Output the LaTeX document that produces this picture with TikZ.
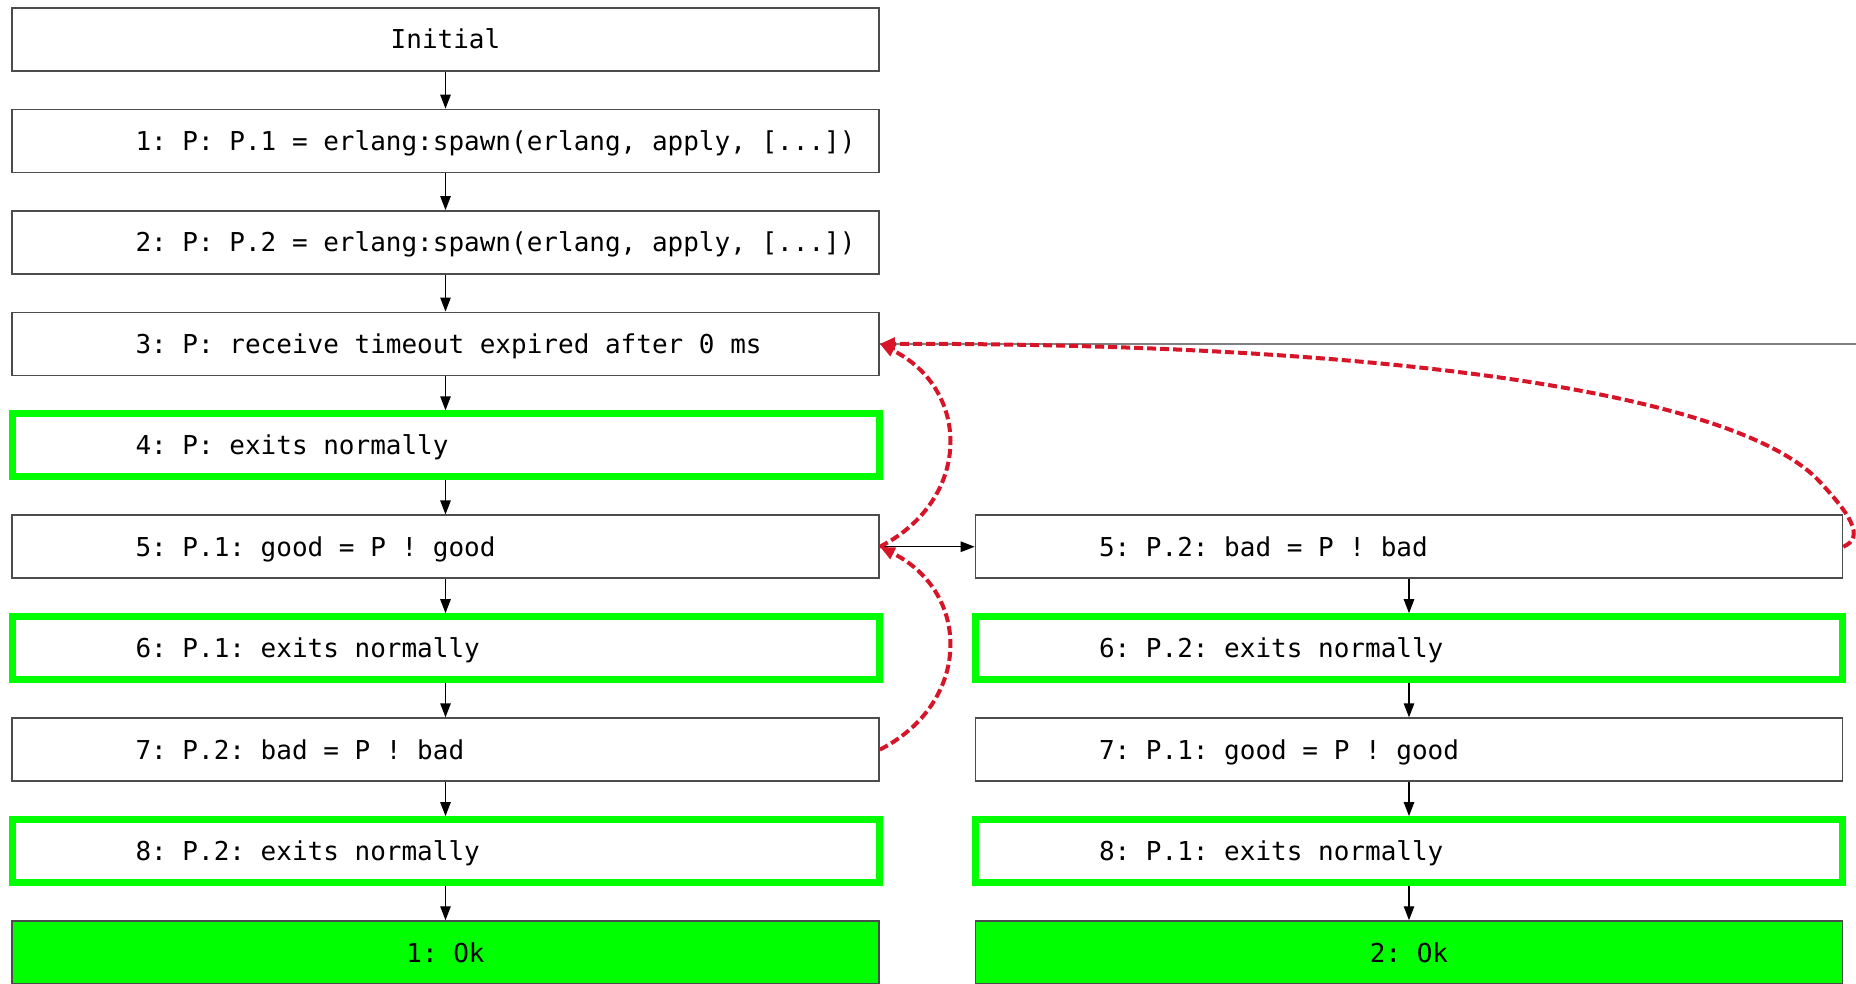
\documentclass[tikz,border=0pt]{standalone}
\usepackage{fontspec}
\setmonofont{DejaVu Sans Mono}
\usetikzlibrary{arrows.meta}
\definecolor{gvgreen}{RGB}{0,255,0}
\definecolor{gvred}{RGB}{215,20,40}
\newcommand\lefttxt[1]{\makebox[310pt][l]{#1}}
\begin{document}
\begin{tikzpicture}[x=0.5pt,y=-0.5pt,
  box/.style={draw=black!70, line width=0.8pt, fill=white, minimum width=433.5pt,
    minimum height=31.5pt, inner sep=0pt, font=\ttfamily\fontsize{13}{15}\selectfont,
    text height=9.5pt, text depth=0pt},
  gbox/.style={box, draw=gvgreen, line width=3.5pt},
  okbox/.style={box, fill=gvgreen},
  flow/.style={-{Triangle[length=7pt,width=5.2pt]}, line width=0.7pt, black},
  race/.style={gvred, line width=2pt, dash pattern=on 4.5pt off 2pt,
    -{Triangle[length=7.5pt,width=6pt]}},
  offarrow/.style={black!50, line width=1pt, -{Triangle[length=7pt,width=5.2pt]}}]
\clip (0,0) rectangle (1856,984);
\fill[white] (0,0) rectangle (1856,984);
% left column
\node[box] (n0) at (445.5,39.5) {Initial};
\node[box] (n1) at (445.5,140.95) {\lefttxt{1: P: P.1 = erlang:spawn(erlang, apply, [...])}};
\node[box] (n2) at (445.5,242.4) {\lefttxt{2: P: P.2 = erlang:spawn(erlang, apply, [...])}};
\node[box] (n3) at (445.5,343.85) {\lefttxt{3: P: receive timeout expired after 0 ms}};
\node[gbox] (n4) at (445.5,445.3) {\lefttxt{4: P: exits normally}};
\node[box] (n5) at (445.5,546.75) {\lefttxt{5: P.1: good = P ! good}};
\node[gbox] (n6) at (445.5,648.2) {\lefttxt{6: P.1: exits normally}};
\node[box] (n7) at (445.5,749.65) {\lefttxt{7: P.2: bad = P ! bad}};
\node[gbox] (n8) at (445.5,851.1) {\lefttxt{8: P.2: exits normally}};
\node[okbox] (ok1) at (445.5,952.55) {1: Ok};
% right column
\node[box] (m5) at (1409,546.75) {\lefttxt{5: P.2: bad = P ! bad}};
\node[gbox] (m6) at (1409,648.2) {\lefttxt{6: P.2: exits normally}};
\node[box] (m7) at (1409,749.65) {\lefttxt{7: P.1: good = P ! good}};
\node[gbox] (m8) at (1409,851.1) {\lefttxt{8: P.1: exits normally}};
\node[okbox] (ok2) at (1409,952.55) {2: Ok};
% flow arrows
\foreach \a/\b in {n0/n1,n1/n2,n2/n3,n3/n4,n4/n5,n5/n6,n6/n7,n7/n8,n8/ok1,m5/m6,m6/m7,m7/m8,m8/ok2}
  \draw[flow] (\a.south) -- (\b.north);
\draw[flow] (n5.east) -- (m5.west);
% off-picture arrow
\coordinate (off) at (1870,343.85);
\draw[offarrow] (n3.east) -- (off);
% race arrows
\draw[race] (n5.east) .. controls +(92,-47) and +(92,46) .. (n3.east);
\draw[race] (n7.east) .. controls +(92,-47) and +(92,46) .. (n5.east);
\draw[race] (m5.east) .. controls +(23,-10) and (1848,512.5) .. (1820,482)
  .. controls (1740,395) and (1400,343) .. (n3.east);
\end{tikzpicture}
\end{document}
